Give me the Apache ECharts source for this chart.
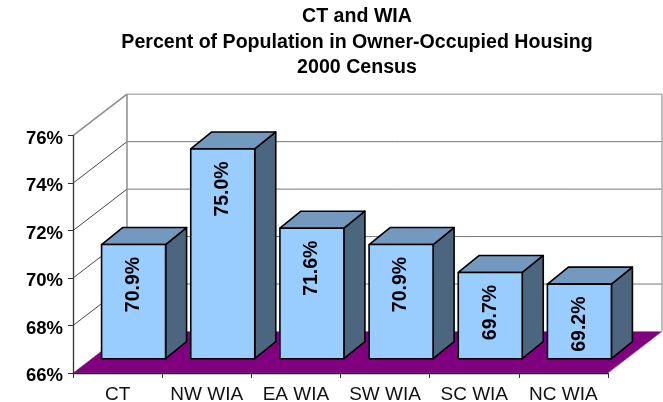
<!DOCTYPE html>
<html>
<head>
<meta charset="utf-8">
<style>html,body{margin:0;padding:0;background:#fff}#c{width:663px;height:402px}</style>
<script src="https://cdn.jsdelivr.net/npm/echarts@6/dist/echarts.min.js"></script>
</head>
<body>
<div id="c"></div>
<script>
var titleLines = ['CT and WIA', 'Percent of Population in Owner-Occupied Housing', '2000 Census'];
var categories = ['CT', 'NW WIA', 'EA WIA', 'SW WIA', 'SC WIA', 'NC WIA'];
var values = [70.9, 75.0, 71.6, 70.9, 69.7, 69.2];
var yTicks = [66, 68, 70, 72, 74, 76];
var yMin = 66, yMax = 76, yStep = 2;

var FONT = '"Liberation Sans", Arial, sans-serif';
var wallDx = 54, wallDy = 41.5;
var barDx = 16, barLift = 14.3, barW = 64, depthX = 21, depthY = 17, barScale = 0.982;

var chart = echarts.init(document.getElementById('c'), null, {renderer: 'canvas'});

function line(x1, y1, x2, y2, color, w) {
  return {type: 'line', shape: {x1: x1, y1: y1, x2: x2, y2: y2}, style: {stroke: color, lineWidth: w, fill: null}, silent: true};
}
function poly(pts, fill, stroke, w) {
  return {type: 'polygon', shape: {points: pts}, style: {fill: fill, stroke: stroke, lineWidth: w, lineJoin: 'round'}, silent: true};
}

function renderWalls(params, api) {
  var v = api.value(0);
  var left = params.coordSys.x, right = left + params.coordSys.width;
  var y = api.coord([0, v])[1];
  var kids = [];
  var bx = left + wallDx, by = y - wallDy;
  if (v === yMax) {
    kids.push(line(left, y, bx, by, '#8c8c8c', 1.5));
    kids.push(line(bx, by, right + wallDx, by, '#b4b4b4', 1.5));
    var floorY = api.coord([0, yMin])[1] - wallDy;
    kids.push(line(bx, by, bx, floorY, '#8c8c8c', 1.5));
    kids.push(line(right + wallDx, by, right + wallDx, floorY, '#a8a8a8', 1.5));
  } else if (v === yMin) {
    kids.push(poly([[left, y], [right, y], [right + wallDx, by], [bx, by]], '#800080', '#808080', 0.5));
  } else {
    kids.push(line(left, y, bx, by, '#1a1a1a', 0.8));
    kids.push(line(bx, by, right + wallDx, by, '#777777', 1));
  }
  return {type: 'group', children: kids};
}

function renderBar(params, api) {
  var i = api.value(0), v = api.value(1);
  var cx = api.coord([i, v])[0] + barDx;
  var y0 = api.coord([i, yMin])[1];
  var yv = api.coord([i, v])[1];
  var base = y0 - barLift;
  var top = base - (y0 - yv) * barScale;
  var l = cx - barW / 2, r = cx + barW / 2;
  var edge = '#000000', w = 1.6;
  return {type: 'group', children: [
    poly([[r, top], [r + depthX, top - depthY], [r + depthX, base - depthY], [r, base]], '#4d6680', edge, w),
    poly([[l, top], [l + depthX, top - depthY], [r + depthX, top - depthY], [r, top]], '#7399bf', edge, w),
    poly([[l, top], [r, top], [r, base], [l, base]], '#99ccff', edge, w),
    {type: 'text', x: cx, y: top + 40, rotation: Math.PI / 2,
      style: {text: v.toFixed(1) + '%', fill: '#000', font: 'bold 19.5px ' + FONT, textAlign: 'center', textVerticalAlign: 'middle'}, silent: true}
  ]};
}

chart.setOption({
  animation: false,
  backgroundColor: '#fff',
  title: {
    text: titleLines.join('\n'),
    left: 352, top: -1, textAlign: 'center',
    textStyle: {fontFamily: FONT, fontWeight: 'bold', fontSize: 19.6, lineHeight: 25.5, color: '#000'}
  },
  grid: {left: 73, top: 135.7, width: 535, height: 237.3, containLabel: false, outerBoundsMode: 'none'},
  xAxis: {
    type: 'category', data: categories, z: 3,
    axisLine: {lineStyle: {color: '#222', width: 1.3}},
    axisTick: {show: true, length: 5, alignWithLabel: false, lineStyle: {color: '#333', width: 1}},
    axisLabel: {fontFamily: FONT, fontSize: 19, color: '#111', margin: 12, interval: 0},
    splitLine: {show: false}
  },
  yAxis: {
    type: 'value', min: yMin, max: yMax, interval: yStep, z: 3,
    axisLine: {show: true, lineStyle: {color: '#333', width: 1.3}},
    axisTick: {show: true, length: 5, lineStyle: {color: '#333', width: 1}},
    axisLabel: {fontFamily: FONT, fontSize: 18.5, fontWeight: 'bold', color: '#000', margin: 10,
      verticalAlign: 'top', lineHeight: 6,
      formatter: function (v) { return v + '%'; }},
    splitLine: {show: false}
  },
  series: [
    {type: 'custom', name: 'walls', z: 1, clip: false, renderItem: renderWalls,
      encode: {y: 0}, data: yTicks.map(function (t) { return [t]; })},
    {type: 'custom', name: 'bars', z: 5, clip: false, renderItem: renderBar,
      encode: {x: 0, y: 1}, data: values.map(function (v, i) { return [i, v]; })}
  ]
});
</script>
</body>
</html>
